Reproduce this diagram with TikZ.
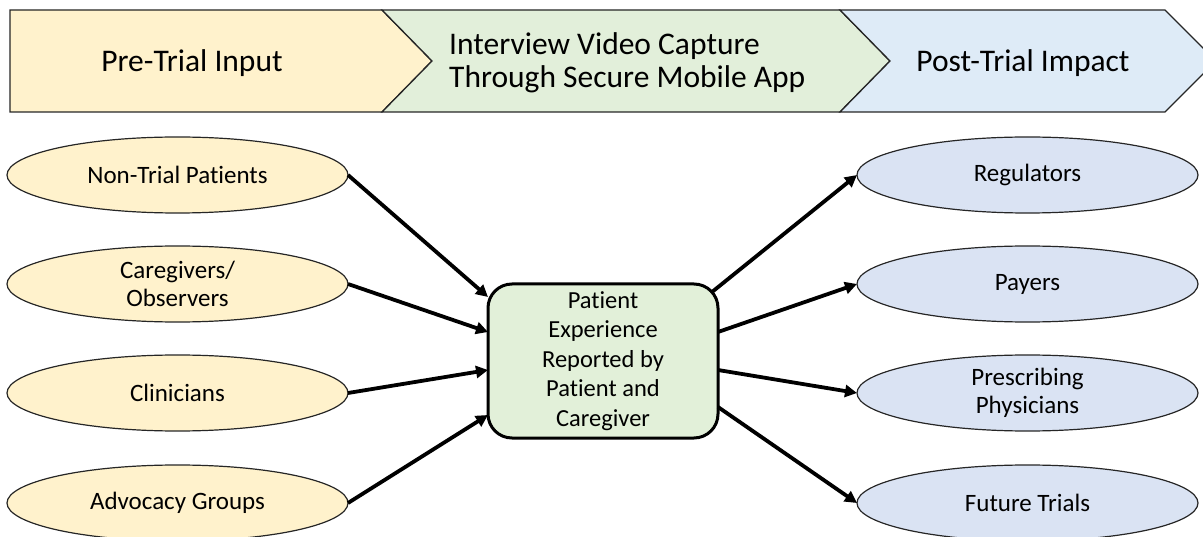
\documentclass[tikz,border=0pt]{standalone}
\usepackage{fontspec}
\setmainfont{Carlito}[Ligatures={NoCommon}]
\usetikzlibrary{arrows.meta,shapes.geometric}
\definecolor{preY}{HTML}{FFF2CC}
\definecolor{midG}{HTML}{E2EFDA}
\definecolor{postB}{HTML}{DEEBF7}
\definecolor{ellB}{HTML}{DAE3F3}
\definecolor{boxG}{HTML}{E2F0D9}
\definecolor{edge}{HTML}{262626}
\tikzset{
  bannerpart/.style={draw=edge,line width=1.3pt,line join=miter},
  bannertext/.style={font=\fontsize{31.5}{33}\selectfont,inner sep=0pt,align=left},
  oval/.style={ellipse,draw=edge,line width=1.2pt,minimum width=341pt,minimum height=76pt,inner sep=0pt,outer sep=0pt,align=center,font=\fontsize{25}{28.5}\selectfont},
  inoval/.style={oval,fill=preY},
  outoval/.style={oval,fill=ellB},
  hub/.style={rectangle,rounded corners=24pt,draw=black,line width=3pt,fill=boxG,minimum width=230pt,minimum height=154pt,inner sep=0pt,outer sep=0pt,align=center,font=\fontsize{24.5}{29.5}\selectfont},
  flow/.style={line width=3.8pt,-{Triangle[length=12pt,width=12pt]}}
}
\begin{document}
\begin{tikzpicture}[x=1pt,y=-1pt]
\useasboundingbox (0,0) rectangle (1203,537);
% banner
\path[bannerpart,fill=preY] (10,10) -- (382,10) -- (432,61) -- (382,112) -- (10,112) -- cycle;
\path[bannerpart,fill=midG] (382,10) -- (840,10) -- (890,61) -- (840,112) -- (382,112) -- (432,61) -- cycle;
\path[bannerpart,fill=postB] (840,10) -- (1165,10) -- (1216,61) -- (1165,112) -- (840,112) -- (890,61) -- cycle;
\node[bannertext] (pre) at (192,63) {Pre-Trial Input};
\node[bannertext,anchor=west] (mid) at (449,63) {Interview Video Capture\\Through Secure Mobile App};
\node[bannertext] (post) at (1023,63) {Post-Trial Impact};
% left ellipses
\node[inoval] (ntp) at (177.5,175) {Non-Trial Patients};
\node[inoval] (cg) at (177.5,284) {Caregivers/\\Observers};
\node[inoval] (cl) at (177.5,393) {Clinicians};
\node[inoval] (ag) at (177.5,503) {Advocacy Groups};
% center
\node[hub] (pe) at (603,361) {Patient\\Experience\\Reported by\\Patient and\\Caregiver};
% right ellipses
\node[outoval] (reg) at (1027.5,175) {Regulators};
\node[outoval] (pay) at (1027.5,284) {Payers};
\node[outoval] (pp) at (1027.5,393) {Prescribing\\Physicians};
\node[outoval] (ft) at (1027.5,503) {Future Trials};
% connectors
\draw[flow] (ntp.east) -- ([yshift=64pt]pe.west);
\draw[flow] (cg.east) -- ([yshift=29pt]pe.west);
\draw[flow] (cl.east) -- ([yshift=-9pt]pe.west);
\draw[flow] (ag.east) -- ([yshift=-54pt]pe.west);
\draw[flow] ([xshift=-6pt,yshift=69pt]pe.east) -- (reg.west);
\draw[flow] ([yshift=29pt]pe.east) -- (pay.west);
\draw[flow] ([yshift=-9pt]pe.east) -- (pp.west);
\draw[flow] ([yshift=-46pt]pe.east) -- (ft.west);
\end{tikzpicture}
\end{document}
